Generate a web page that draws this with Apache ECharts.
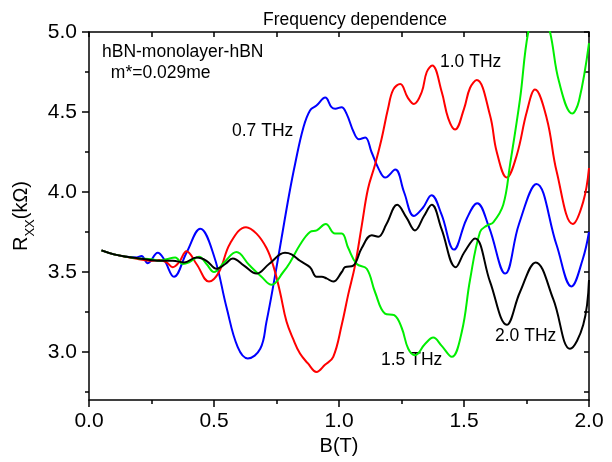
<!DOCTYPE html>
<html>
<head>
<meta charset="utf-8">
<script src="https://cdn.jsdelivr.net/npm/echarts@6/dist/echarts.min.js"></script>
<style>
  html, body { margin: 0; padding: 0; background: #fff; }
  #chart { width: 612px; height: 462px; }
</style>
</head>
<body>
<div id="chart"></div>
<script>
// B (T) and Rxx (kOhm), one pair of arrays per frequency
const b07 = [0.05,0.10,0.15,0.19,0.21,0.235,0.275,0.30,0.34,0.39,0.445,0.50,0.55,0.595,0.635,0.685,0.71,0.74,0.77,0.80,0.825,0.857,0.884,0.91,0.945,0.97,0.985,1.01,1.03,1.06,1.08,1.105,1.13,1.16,1.185,1.225,1.26,1.30,1.335,1.37,1.41,1.46,1.51,1.553,1.60,1.665,1.72,1.79,1.87,1.93,1.975,2.0];
const r07 = [3.635,3.61,3.595,3.59,3.60,3.555,3.62,3.58,3.47,3.62,3.77,3.60,3.28,3.03,2.96,3.02,3.19,3.44,3.71,3.98,4.18,4.40,4.51,4.54,4.59,4.53,4.52,4.53,4.49,4.37,4.33,4.34,4.25,4.14,4.09,4.14,4.00,3.85,3.90,3.98,3.86,3.64,3.83,3.93,3.78,3.49,3.80,4.05,3.67,3.41,3.58,3.75];

const b10 = [0.05,0.10,0.15,0.20,0.245,0.28,0.31,0.335,0.36,0.39,0.43,0.48,0.52,0.565,0.628,0.67,0.71,0.737,0.764,0.79,0.817,0.844,0.875,0.91,0.944,0.977,1.011,1.037,1.064,1.091,1.116,1.144,1.17,1.196,1.217,1.245,1.275,1.30,1.331,1.351,1.373,1.411,1.437,1.464,1.50,1.524,1.551,1.604,1.631,1.671,1.711,1.751,1.784,1.831,1.871,1.935,1.977,2.0];
const r10 = [3.635,3.61,3.595,3.58,3.57,3.575,3.56,3.53,3.56,3.63,3.55,3.44,3.50,3.68,3.78,3.74,3.65,3.54,3.375,3.19,3.08,2.99,2.93,2.875,2.92,2.97,3.17,3.36,3.54,3.79,4.02,4.17,4.33,4.52,4.64,4.675,4.59,4.55,4.625,4.75,4.79,4.625,4.46,4.39,4.52,4.65,4.70,4.48,4.25,4.09,4.23,4.50,4.64,4.46,4.125,3.80,3.94,4.15];

const b15 = [0.05,0.10,0.15,0.20,0.25,0.28,0.31,0.345,0.375,0.40,0.44,0.47,0.50,0.54,0.59,0.64,0.69,0.73,0.777,0.804,0.844,0.884,0.911,0.947,0.984,1.011,1.037,1.071,1.111,1.144,1.184,1.221,1.251,1.277,1.304,1.344,1.377,1.41,1.451,1.491,1.524,1.564,1.591,1.617,1.657,1.684,1.724,1.757,1.80,1.844,1.88,1.933,1.96,2.0];
const r15 = [3.635,3.61,3.595,3.585,3.58,3.57,3.58,3.59,3.55,3.56,3.595,3.55,3.50,3.56,3.625,3.545,3.47,3.42,3.50,3.56,3.67,3.75,3.76,3.80,3.74,3.74,3.65,3.55,3.52,3.375,3.24,3.23,3.15,3.02,2.98,3.05,3.09,3.04,2.97,3.125,3.45,3.75,3.79,3.81,3.92,4.17,4.58,5.0,5.22,5.0,4.69,4.49,4.57,4.93];

const b20 = [0.05,0.10,0.15,0.20,0.245,0.29,0.335,0.38,0.43,0.47,0.51,0.545,0.575,0.62,0.67,0.72,0.784,0.81,0.844,0.884,0.91,0.931,0.95,0.977,1.011,1.024,1.057,1.091,1.131,1.157,1.19,1.233,1.27,1.304,1.34,1.371,1.41,1.467,1.50,1.544,1.604,1.671,1.724,1.787,1.857,1.924,1.977,2.0];
const r20 = [3.635,3.61,3.595,3.585,3.575,3.57,3.57,3.56,3.59,3.57,3.52,3.55,3.585,3.54,3.49,3.55,3.62,3.61,3.57,3.53,3.47,3.47,3.46,3.44,3.50,3.53,3.54,3.65,3.73,3.72,3.80,3.92,3.84,3.76,3.85,3.92,3.77,3.53,3.62,3.71,3.44,3.17,3.375,3.56,3.33,3.02,3.17,3.45];

const yTicks = [3.0, 3.5, 4.0, 4.5, 5.0];
const yMinorTicks = [2.75, 3.25, 3.75, 4.25, 4.75];
const yAllTicks = [2.75, 3.0, 3.25, 3.5, 3.75, 4.0, 4.25, 4.5, 4.75, 5.0];

const FONT = '"Liberation Sans", Arial, sans-serif';
const zip = (xs, ys) => xs.map((x, i) => [x, ys[i]]);

const chart = echarts.init(document.getElementById('chart'));

const axisLine = { onZero: false, lineStyle: { color: '#000', width: 1.5 } };
const tickStyle = { color: '#000', width: 1.5 };

const makeSeries = (name, xs, ys, color) => ({
  name: name,
  type: 'line',
  data: zip(xs, ys),
  smooth: 0.4,
  showSymbol: false,
  symbol: 'none',
  clip: true,
  lineStyle: { color: color, width: 2 },
  itemStyle: { color: color },
  silent: true
});

const annText = (text, x, y) => ({
  type: 'text',
  x: x,
  y: y,
  style: { text: text, fontSize: 17.5, fontFamily: FONT, fill: '#000', verticalAlign: 'middle' }
});

chart.setOption({
  animation: false,
  backgroundColor: '#fff',
  grid: { left: 89, right: 23, top: 32, bottom: 62, containLabel: false },
  title: {
    text: 'Frequency dependence',
    left: 258,
    top: 6,
    textStyle: { fontSize: 17.5, fontWeight: 'normal', fontFamily: FONT, color: '#000' }
  },
  xAxis: [
    {
      type: 'value', min: 0, max: 2, interval: 0.5, position: 'bottom',
      axisLine: axisLine,
      axisTick: { length: 7, lineStyle: tickStyle },
      minorTick: { show: true, splitNumber: 2, length: 4, lineStyle: tickStyle },
      axisLabel: { fontSize: 21, color: '#000', fontFamily: FONT, margin: 11, formatter: v => v.toFixed(1) },
      splitLine: { show: false },
      minorSplitLine: { show: false },
      name: 'B(T)', nameLocation: 'middle', nameGap: 33,
      nameTextStyle: { fontSize: 20, color: '#000', fontFamily: FONT }
    },
    {
      type: 'value', min: 0, max: 2, interval: 0.25, position: 'top',
      axisLine: axisLine,
      axisTick: { inside: true, length: 5, lineStyle: tickStyle },
      axisLabel: { show: false },
      splitLine: { show: false }
    }
  ],
  yAxis: [
    {
      type: 'value', min: 2.7, max: 5.0, position: 'left',
      axisLine: axisLine,
      axisTick: { length: 7, lineStyle: tickStyle, customValues: yTicks },
      axisLabel: { fontSize: 21, color: '#000', fontFamily: FONT, margin: 12, customValues: yTicks, formatter: v => v.toFixed(1) },
      splitLine: { show: false },
      name: '{r|R}{s|XX}{r|(kΩ)}', nameLocation: 'middle', nameGap: 52, nameRotate: 90,
      nameTextStyle: {
        color: '#000', fontFamily: FONT,
        rich: {
          r: { fontSize: 20, fontFamily: FONT, color: '#000', lineHeight: 30, verticalAlign: 'middle' },
          s: { fontSize: 13, fontFamily: FONT, color: '#000', lineHeight: 14, verticalAlign: 'bottom' }
        }
      }
    },
    {
      type: 'value', min: 2.7, max: 5.0, position: 'right',
      axisLine: axisLine,
      axisTick: { inside: true, length: 5, lineStyle: tickStyle, customValues: yAllTicks },
      axisLabel: { show: false, customValues: yAllTicks },
      splitLine: { show: false }
    },
    {
      type: 'value', min: 2.7, max: 5.0, position: 'left',
      axisLine: { show: false, onZero: false },
      axisTick: { length: 4, lineStyle: tickStyle, customValues: yMinorTicks },
      axisLabel: { show: false, customValues: yMinorTicks },
      splitLine: { show: false }
    }
  ],
  series: [
    makeSeries('0.7 THz', b07, r07, '#0000ff'),
    makeSeries('1.0 THz', b10, r10, '#ff0000'),
    makeSeries('1.5 THz', b15, r15, '#00ee00'),
    makeSeries('2.0 THz', b20, r20, '#000000')
  ],
  graphic: [
    annText('hBN-monolayer-hBN', 102, 52),
    annText(' m*=0.029me', 106, 73),
    annText('0.7 THz', 232, 131),
    annText('1.0 THz', 440, 62),
    annText('1.5 THz', 381, 360),
    annText('2.0 THz', 495, 336)
  ]
});
</script>
</body>
</html>
